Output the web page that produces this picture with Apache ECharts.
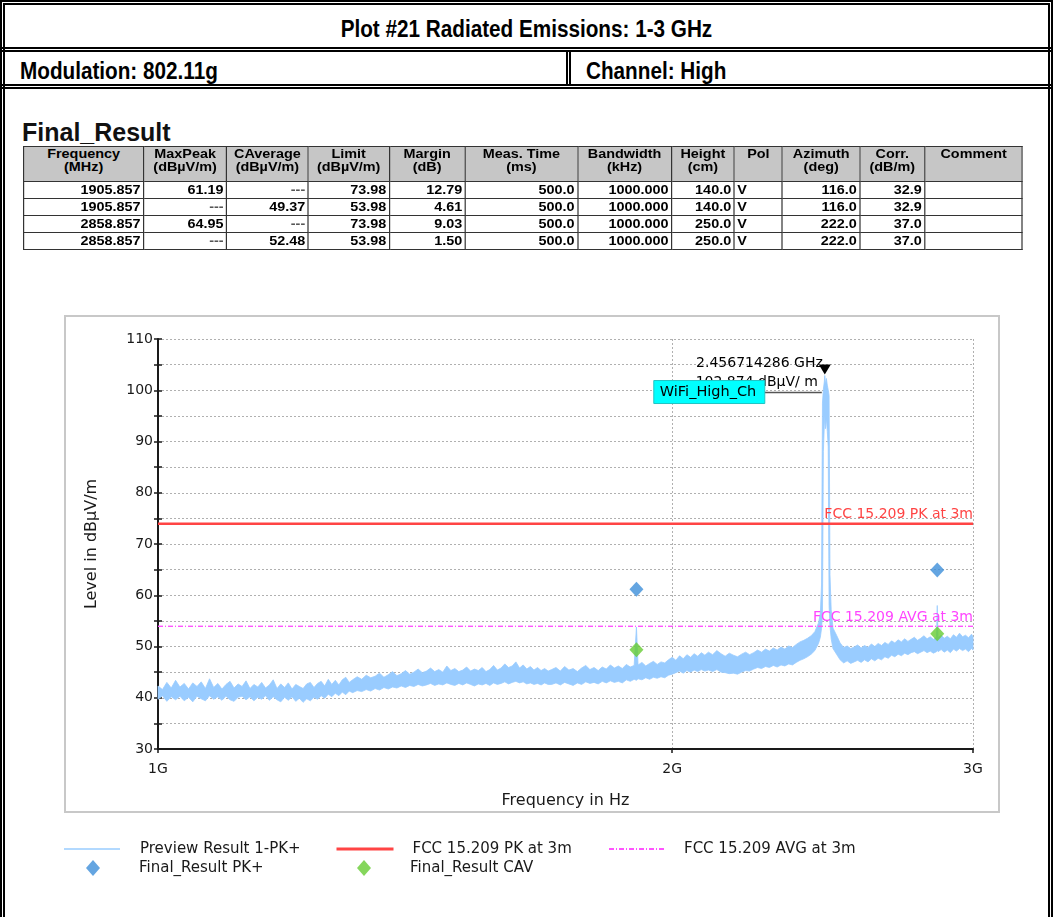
<!DOCTYPE html>
<html>
<head>
<meta charset="utf-8">
<title>Plot #21 Radiated Emissions: 1-3 GHz</title>
<script src="https://cdn.jsdelivr.net/npm/echarts@6/dist/echarts.min.js"></script>
<style>
  html, body { margin: 0; padding: 0; background: #fff; }
  #page { position: relative; width: 1053px; height: 917px; overflow: hidden; background: #fff;
          font-family: "Liberation Sans", Arial, sans-serif; color: #000; }
  .frame { position: absolute; left: 0; top: 0; width: 1053px; height: 930px; box-sizing: border-box; border: 5px double #000; }
  .hline { position: absolute; left: 0; width: 1053px; height: 0; border-top: 5px double #000; }
  .vline { position: absolute; width: 0; border-left: 5px double #000; }
  .head { position: absolute; font-weight: bold; font-size: 23px; white-space: nowrap; }
  .head span { display: inline-block; transform: scaleX(0.9); }
  .head.c span { transform-origin: 50% 50%; }
  .head.l span { transform-origin: 0 50%; }
  #heading { position: absolute; left: 22px; top: 120px; font-size: 25px; line-height: 25px; font-weight: bold; color: #111; }
  #tableWrap { position: absolute; left: 23px; top: 146px; transform: scaleX(1.2); transform-origin: 0 0; }
  #res { border-collapse: collapse; table-layout: fixed; font-size: 12px; font-weight: bold; }
  #res th, #res td { border: 1px solid #333; overflow: hidden; white-space: nowrap; }
  #res th { background: #c6c6c6; height: 33px; vertical-align: top; text-align: center; line-height: 13px; padding: 1px 0 0 0; font-weight: bold; }
  #res td { height: 16px; line-height: 15px; padding: 0 2px; text-align: right; background: #fff; }
  #res td.l { text-align: left; }
  #res td.dash { color: #555; }
  #panel { position: absolute; left: 64px; top: 315px; width: 936px; height: 498px; box-sizing: border-box; border: 2px solid #c8c8c8; }
  #chart { position: absolute; left: 0; top: 0; width: 1053px; height: 917px; }
</style>
</head>
<body>
<div id="page">
  <div class="frame"></div>
  <div class="head c" style="left:5px;top:5px;width:1043px;height:42px;line-height:48px;text-align:center;"><span>Plot #21 Radiated Emissions: 1-3 GHz</span></div>
  <div class="hline" style="top:47px;"></div>
  <div class="head l" style="left:20px;top:52px;height:32px;line-height:38px;"><span>Modulation: 802.11g</span></div>
  <div class="vline" style="left:566px;top:50px;height:36px;"></div>
  <div class="head l" style="left:586px;top:52px;height:32px;line-height:38px;"><span>Channel: High</span></div>
  <div class="hline" style="top:84px;"></div>
  <div id="heading">Final_Result</div>
  <div id="tableWrap"></div>
  <div id="panel"></div>
  <div id="chart"></div>
</div>
<script>
// ---- Preview sweep (peak detector), lower and upper edge of the trace, MHz / dBµV/m ----
const traceMHz = [
  1000,1006,1012,1018,1024,1030,1036,1042,1048,1054,1060,1066,1072,1078,1084,1090,1096,1102,1108,1114,
  1120,1126,1132,1138,1144,1150,1156,1162,1168,1174,1180,1186,1192,1198,1204,1210,1216,1222,1228,1234,
  1240,1246,1252,1258,1264,1270,1276,1282,1288,1294,
  1300,1308,1316,1324,1332,1340,1348,1356,1364,1372,1380,1388,1396,1404,1412,1420,1428,1436,1444,1452,
  1460,1468,1476,1484,1492,1500,1508,1516,1524,1532,1540,1548,1556,1564,1572,1580,1588,1596,1604,1612,
  1620,1628,1636,1644,1652,1660,1668,1676,1684,1692,
  1700,1710,1720,1730,1740,1750,1760,1770,1780,1790,1800,1810,1820,1830,1840,1850,1860,1870,1880,1890,
  1900,1905.857,1910,1920,1930,1940,1950,1960,1970,1980,1990,2000,2010,2020,2030,2040,2050,2060,2070,2080,2090,
  2100,2112,2124,2136,2148,2160,2172,2184,2196,2208,2220,2232,2244,2256,2268,2280,2292,2304,2316,2328,
  2340,2352,2364,2376,2388,2400,2412,2424,2436,
  2442,2446,2449,2452,2455,2456.714286,2459,2462,2465,2468,2471,2474,2478,
  2484,2496,2508,2520,2532,2544,2556,2568,2580,2592,2604,2616,2628,2640,2652,2664,2676,2688,2700,2712,
  2724,2736,2748,2760,2772,2784,2796,2808,2820,2832,2844,2856,2858.857,2862,2874,2886,2898,2910,2922,2934,
  2946,2958,2970,2982,2994,3000
];
const traceLow = [
  39.7,40.4,39.3,40.2,39.6,40.3,39.4,40.1,39.2,40.3,39.8,39.4,40.4,39.7,40.2,39.5,40.3,39.6,39.3,40.1,
  40.3,39.6,40.2,39.4,40.1,39.7,40.4,39.5,40.2,39.6,39.2,40.1,39.5,40.2,39.3,39.9,39.1,39.8,39.4,40.1,
  39.7,40.4,39.9,40.7,40.2,40.9,40.4,41.1,40.6,41.3,
  41.0,41.4,41.2,41.6,41.3,41.8,41.5,42.0,41.7,42.1,41.9,42.3,42.0,42.4,42.2,42.6,42.3,42.5,42.8,42.4,
  42.7,42.5,42.9,42.6,42.4,42.8,42.5,42.9,42.6,42.3,42.7,42.5,42.8,42.4,42.9,42.6,42.8,43.1,42.7,43.0,
  43.2,42.9,43.1,42.7,42.9,42.6,42.8,42.5,42.9,42.6,
  42.6,42.9,42.5,43.0,42.7,42.4,42.9,42.6,43.1,42.8,43.0,42.7,43.2,42.9,43.3,43.0,43.2,42.9,43.5,43.2,
  43.6,43.4,43.7,43.5,43.9,43.6,44.0,43.8,44.1,43.9,44.4,44.6,44.9,45.2,44.8,45.3,45.0,45.4,45.1,45.5,45.2,
  45.4,45.1,45.5,45.0,44.9,44.7,44.8,44.6,45.0,45.3,45.2,45.6,45.9,45.7,46.1,45.9,46.3,46.0,46.4,46.2,
  46.6,46.4,46.9,47.3,47.6,48.0,48.5,49.2,50.6,
  51.8,53.5,56.0,88.0,93.0,95.0,92.5,94.5,92.0,89.0,58.0,54.0,51.5,
  49.6,48.5,47.4,46.8,47.2,46.7,47.0,47.3,46.9,47.4,47.0,47.6,47.2,47.7,47.4,48.0,47.7,48.3,48.0,48.5,
  48.2,48.7,48.4,48.8,49.0,48.6,48.9,49.2,48.8,49.1,48.7,49.0,49.3,49.0,49.4,48.9,49.3,48.8,49.5,49.1,
  49.6,49.2,49.5,49.0,49.6,49.3
];
const traceHigh = [
  42.3,41.6,43.0,41.9,43.4,42.1,42.8,41.7,42.9,42.2,43.1,41.8,43.7,42.0,42.8,41.7,42.6,43.2,41.9,42.7,
  42.2,43.3,41.8,42.6,42.1,43.0,41.9,42.5,43.5,41.8,42.7,42.0,42.9,41.7,42.6,42.2,41.8,42.7,43.0,42.0,
  42.8,43.2,42.3,43.6,42.6,43.4,42.5,43.5,44.0,43.0,
  43.5,44.1,43.6,44.4,43.9,44.2,44.8,44.0,44.5,45.1,44.3,44.7,45.3,44.6,45.0,45.6,44.9,45.2,45.8,45.1,
  45.5,45.0,46.2,45.3,45.7,45.1,45.4,46.0,45.2,45.6,45.3,45.9,45.1,45.5,46.3,45.4,45.8,46.6,45.9,46.2,
  47.0,45.8,46.4,45.6,46.1,45.4,45.9,45.3,45.7,45.2,
  45.5,45.9,45.2,46.1,45.4,45.7,45.1,45.8,46.3,45.5,45.9,45.3,46.0,45.6,46.4,45.8,46.2,45.7,46.5,46.0,
  46.3,53.8,46.4,46.9,46.2,46.7,47.1,46.5,47.0,46.8,47.4,47.9,47.3,48.2,47.6,48.4,47.9,48.6,48.1,48.8,48.3,
  48.9,48.4,49.2,48.6,48.1,48.7,48.3,48.0,48.5,48.9,48.4,48.8,49.3,48.9,49.5,49.1,49.7,49.3,49.9,49.5,
  50.1,49.8,50.4,50.9,51.2,51.6,52.1,52.9,54.6,
  56.5,62.0,97.5,100.2,101.6,102.874,101.2,102.3,101.0,100.1,99.0,64.0,57.2,
  53.6,52.2,50.7,49.8,50.1,49.6,49.9,50.3,49.7,50.2,49.8,50.5,50.0,50.6,50.2,50.8,50.4,51.1,50.7,51.3,
  50.9,51.5,51.0,51.4,51.8,51.2,51.6,52.1,51.5,51.9,51.4,51.8,58.0,51.7,52.2,51.6,52.0,51.5,52.3,51.8,
  52.6,51.9,52.2,51.7,52.4,51.9
];

// ---- Final measurements ----
const finalMHz = [1905.857, 2858.857];
const finalPeak = [61.19, 64.95];
const finalCav = [49.37, 52.48];
const finalHeightCm = [140.0, 250.0];
const finalPol = ['V', 'V'];
const finalAzimuthDeg = [116.0, 222.0];
const finalCorr = [32.9, 37.0];
const measTimeMs = 500.0;
const bandwidthKHz = 1000.0;

// ---- Limits (FCC 15.209 at 3 m) ----
const limitSpanMHz = [1000, 3000];
const pkLimit = 73.98;
const avgLimit = 53.98;

// ---- Marker on the carrier ----
const markerMHz = 2456.714286;
const markerLevel = 102.874;
const markerTag = 'WiFi_High_Ch';

// ---- Axes ----
const xTickMHz = [1000, 2000, 3000];
const xTickLabels = ['1G', '2G', '3G'];
const yMin = 30, yMax = 110, yStep = 5, yLabelStep = 10;

// ---- Result table ----
const tableHead = [
  ['Frequency', '(MHz)'], ['MaxPeak', '(dBµV/m)'], ['CAverage', '(dBµV/m)'], ['Limit', '(dBµV/m)'],
  ['Margin', '(dB)'], ['Meas. Time', '(ms)'], ['Bandwidth', '(kHz)'], ['Height', '(cm)'], ['Pol', ''],
  ['Azimuth', '(deg)'], ['Corr.', '(dB/m)'], ['Comment', '']
];
const colWidths = [120, 83, 81.6, 81, 76, 112.4, 94, 62.6, 48.4, 77.3, 65, 97.7];

(function buildTable() {
  const sx = 1.2;
  let html = '<table id="res"><colgroup>';
  colWidths.forEach(w => { html += '<col style="width:' + (w / sx).toFixed(2) + 'px">'; });
  html += '</colgroup><tr>';
  tableHead.forEach(h => { html += '<th>' + h[0] + (h[1] ? '<br>' + h[1] : '') + '</th>'; });
  html += '</tr>';
  const dash = '---';
  const rows = [];
  finalMHz.forEach((f, i) => {
    const common = [measTimeMs.toFixed(1), bandwidthKHz.toFixed(3), finalHeightCm[i].toFixed(1), finalPol[i],
                    finalAzimuthDeg[i].toFixed(1), finalCorr[i].toFixed(1), ''];
    rows.push([f.toFixed(3), finalPeak[i].toFixed(2), dash, pkLimit.toFixed(2), (pkLimit - finalPeak[i]).toFixed(2)].concat(common));
    rows.push([f.toFixed(3), dash, finalCav[i].toFixed(2), avgLimit.toFixed(2), (avgLimit - finalCav[i]).toFixed(2)].concat(common));
  });
  rows.forEach(r => {
    html += '<tr>';
    r.forEach((c, j) => {
      const cls = j === 8 ? 'l' : (c === dash ? 'dash' : '');
      html += '<td class="' + cls + '">' + c + '</td>';
    });
    html += '</tr>';
  });
  html += '</table>';
  document.getElementById('tableWrap').innerHTML = html;
})();

const chart = echarts.init(document.getElementById('chart'), null, { renderer: 'canvas' });

const FONT = 'DejaVu Sans';
const INK = '#1a1a1a';
const traceColor = '#99ccff';
const bandData = traceMHz.map((f, i) => [f, traceLow[i], traceHigh[i]]);

const legendCommon = {
  orient: 'horizontal', padding: 0, itemGap: 0, selectedMode: false,
  textStyle: { fontFamily: FONT, fontSize: 15, color: INK, lineHeight: 18 }
};
function legendAt(name, left, top, extra, textPad) {
  return Object.assign({}, legendCommon, { data: [name], left: left, top: top },
    extra, { textStyle: Object.assign({}, legendCommon.textStyle, { padding: [0, 0, 0, textPad] }) });
}

const option = {
  animation: false,
  textStyle: { fontFamily: FONT },
  grid: { left: 158, top: 339, width: 815, height: 410 },
  legend: [
    legendAt('Preview Result 1-PK+', 64, 840, { itemWidth: 56, itemHeight: 1.5, icon: 'rect' }, 15),
    legendAt('FCC 15.209 PK at 3m', 335, 840,
      { itemWidth: 57, itemHeight: 14, lineStyle: { width: 3 }, itemStyle: { opacity: 0 } }, 14),
    legendAt('FCC 15.209 AVG at 3m', 608, 840,
      { itemWidth: 55, itemHeight: 14, itemStyle: { opacity: 0 } }, 15),
    legendAt('Final_Result PK+', 86, 859, { itemWidth: 14, itemHeight: 16, icon: 'diamond' }, 34),
    legendAt('Final_Result CAV', 357, 859, { itemWidth: 14, itemHeight: 16, icon: 'diamond' }, 34)
  ],
  xAxis: {
    type: 'log', logBase: 10, min: limitSpanMHz[0], max: limitSpanMHz[1],
    name: 'Frequency in Hz', nameLocation: 'middle', nameGap: 44,
    nameTextStyle: { fontFamily: FONT, fontSize: 16, color: INK },
    axisLine: { show: true, lineStyle: { color: INK, width: 2 } },
    axisTick: { show: true, customValues: xTickMHz, length: 4, lineStyle: { color: INK, width: 1.5 } },
    axisLabel: { show: true, customValues: xTickMHz, margin: 13, fontFamily: FONT, fontSize: 14, color: INK,
                 formatter: v => xTickLabels[xTickMHz.indexOf(Math.round(v))] },
    splitLine: { show: true, lineStyle: { color: '#b0b0b0', width: 1, type: [2, 2] } },
    minorTick: { show: false }, minorSplitLine: { show: false }
  },
  yAxis: [
    {
      type: 'value', min: yMin, max: yMax, interval: yStep,
      name: 'Level in dBμV/m', nameLocation: 'middle', nameGap: 58,
      nameTextStyle: { fontFamily: FONT, fontSize: 16, color: INK },
      axisLine: { show: true, lineStyle: { color: INK, width: 2 } },
      axisTick: { show: true, length: 4, lineStyle: { color: INK, width: 1.5 } },
      axisLabel: { margin: 5, fontFamily: FONT, fontSize: 14, color: INK,
                   formatter: v => (v % yLabelStep === 0 ? String(v) : '') },
      splitLine: { show: true, lineStyle: { color: '#b0b0b0', width: 1, type: [2, 2] } }
    },
    {
      type: 'value', min: yMin, max: yMax, interval: yStep, position: 'left',
      axisLine: { show: false },
      axisTick: { show: true, inside: true, length: 4, lineStyle: { color: INK, width: 1.5 } },
      axisLabel: { show: false }, splitLine: { show: false }
    }
  ],
  series: [
    {
      name: 'Preview Result 1-PK+', type: 'custom', z: 2,
      itemStyle: { color: traceColor },
      encode: { x: 0, y: [1, 2] },
      data: bandData,
      renderItem: function (params, api) {
        if (params.dataIndex !== 0) return null;
        const pts = [];
        for (let i = 0; i < traceMHz.length; i++) pts.push(api.coord([traceMHz[i], traceHigh[i]]));
        for (let i = traceMHz.length - 1; i >= 0; i--) pts.push(api.coord([traceMHz[i], traceLow[i]]));
        return { type: 'polygon', shape: { points: pts },
                 style: { fill: traceColor, stroke: traceColor, lineWidth: 0.8 } };
      }
    },
    {
      name: 'FCC 15.209 PK at 3m', type: 'line', z: 3, symbol: 'none', silent: true,
      lineStyle: { color: '#ff4444', width: 2 }, itemStyle: { color: '#ff4444' },
      data: limitSpanMHz.map(f => [f, pkLimit]),
      markLine: {
        silent: true, symbol: ['none', 'none'],
        lineStyle: { color: '#ff4444', width: 2, type: 'solid' },
        label: { show: true, position: 'insideEndTop', distance: [0, 2], formatter: 'FCC 15.209 PK at 3m',
                 color: '#ff4444', fontFamily: FONT, fontSize: 14 },
        data: [{ yAxis: pkLimit }]
      }
    },
    {
      name: 'FCC 15.209 AVG at 3m', type: 'line', z: 3, symbol: 'none', silent: true,
      lineStyle: { color: '#ff55ff', width: 1, type: [5, 2, 1, 2] }, itemStyle: { color: '#ff55ff' },
      data: limitSpanMHz.map(f => [f, avgLimit]),
      markLine: {
        silent: true, symbol: ['none', 'none'],
        lineStyle: { color: '#ff55ff', width: 1, type: [5, 2, 1, 2] },
        label: { show: true, position: 'insideEndTop', distance: [0, 2], formatter: 'FCC 15.209 AVG at 3m',
                 color: '#ff44ff', fontFamily: FONT, fontSize: 14 },
        data: [{ yAxis: avgLimit }]
      }
    },
    {
      name: 'Final_Result PK+', type: 'scatter', z: 5, symbol: 'diamond', symbolSize: [14, 15],
      itemStyle: { color: '#3d8fd9' },
      data: finalMHz.map((f, i) => [f, finalPeak[i]])
    },
    {
      name: 'Final_Result CAV', type: 'scatter', z: 5, symbol: 'diamond', symbolSize: [14, 15],
      itemStyle: { color: '#66cc33' },
      data: finalMHz.map((f, i) => [f, finalCav[i]])
    }
  ]
};

chart.setOption(option);

// Marker readout on the carrier peak
(function drawMarker() {
  const p = chart.convertToPixel({ xAxisIndex: 0, yAxisIndex: 0 }, [markerMHz, markerLevel]);
  const x = p[0], y = p[1];
  const boxW = 111, boxH = 23;
  const boxX = x - 171, boxY = y + 5;
  chart.setOption({
    graphic: [
      { type: 'polygon', z: 100, shape: { points: [[x - 6, y - 11], [x + 6, y - 11], [x, y - 1]] },
        style: { fill: '#000' } },
      { type: 'text', z: 100, x: x - 2, y: y - 12,
        style: { text: (markerMHz / 1000).toFixed(9) + ' GHz', align: 'right', verticalAlign: 'middle',
                 font: '14px "DejaVu Sans"', fill: '#000' } },
      { type: 'text', z: 100, x: x - 7, y: y + 7,
        style: { text: markerLevel.toFixed(3) + ' dBμV/ m', align: 'right', verticalAlign: 'middle',
                 font: '14px "DejaVu Sans"', fill: '#000' } },
      { type: 'line', z: 101, shape: { x1: boxX + boxW, y1: y + 17, x2: x - 3, y2: y + 17 },
        style: { stroke: '#555', lineWidth: 1.5 } },
      { type: 'rect', z: 102, shape: { x: boxX, y: boxY, width: boxW, height: boxH },
        style: { fill: '#00ffff', stroke: '#22c4c4', lineWidth: 1 } },
      { type: 'text', z: 103, x: boxX + 6, y: boxY + boxH / 2 + 0.5,
        style: { text: markerTag, align: 'left', verticalAlign: 'middle',
                 font: '14.5px "DejaVu Sans"', fill: '#000' } }
    ]
  });
})();
</script>
</body>
</html>
